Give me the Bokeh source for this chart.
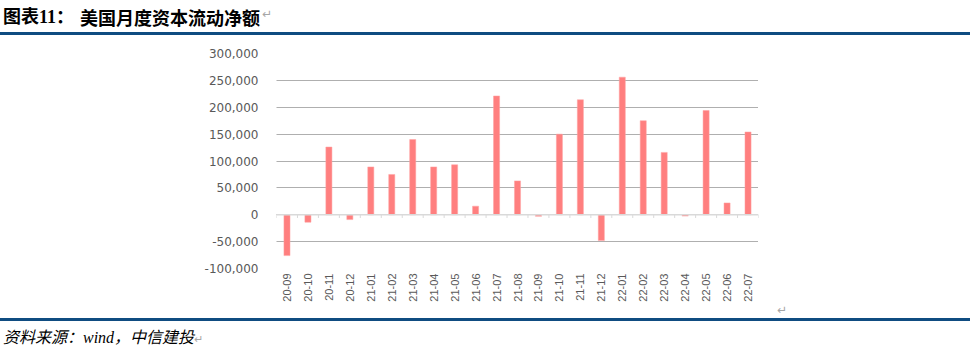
from bokeh.plotting import figure
from bokeh.layouts import column
from bokeh.models import (Range1d, FixedTicker, NumeralTickFormatter, Span,
                          ColumnDataSource, Div)
from bokeh.transform import dodge
from bokeh.embed import file_html
from bokeh.resources import INLINE
import math

# ---- data ----
months = ["20-09", "20-10", "20-11", "20-12",
          "21-01", "21-02", "21-03", "21-04", "21-05", "21-06",
          "21-07", "21-08", "21-09", "21-10", "21-11", "21-12",
          "22-01", "22-02", "22-03", "22-04", "22-05", "22-06", "22-07"]
net_flow = [-76000, -14000, 126000, -9000,
            89000, 75000, 140000, 89000, 93000, 16000,
            221000, 63000, -3000, 150000, 214000, -48000,
            256000, 175000, 116000, -2500, 194000, 22000, 154000]
y_ticks = [-100000, -50000, 0, 50000, 100000, 150000, 200000, 250000, 300000]
title_prefix = "图表11："
title_text = "美国月度资本流动净额"
source_text = "资料来源：wind，中信建投"

BLUE = "#0F4C81"
MARK = "#A6A6A6"

# ---- title band (canvas y 0..36) ----
top_html = f"""
<div style="position:relative;width:970px;height:36px;background:white;overflow:hidden;">
  <span style="position:absolute;left:3px;top:8px;line-height:18px;font-size:18px;font-weight:bold;
     font-family:'Liberation Serif','Noto Sans CJK SC';color:#000;white-space:nowrap;">{title_prefix}</span>
  <span style="position:absolute;left:80px;top:8px;line-height:18px;font-size:18px;font-weight:bold;
     font-family:'Noto Sans CJK SC';color:#000;white-space:nowrap;">{title_text}</span>
  <span style="position:absolute;left:262px;top:8px;line-height:12px;font-size:12px;
     font-family:'DejaVu Sans';color:{MARK};">↵</span>
  <div style="position:absolute;left:0;top:32px;width:970px;height:3px;background:{BLUE};"></div>
</div>
"""
top = Div(text=top_html, width=970, height=36, margin=0)

# ---- main chart (canvas y 36..304) ----
src = ColumnDataSource(dict(month=months, flow=net_flow))
last_src = ColumnDataSource(dict(month=[months[-1]]))

p = figure(width=970, height=268, x_range=months, y_range=Range1d(-100000, 300000),
           output_backend="svg", toolbar_location=None,
           min_border_left=276, min_border_right=212, min_border_top=17, min_border_bottom=36)
p.outline_line_color = None
p.background_fill_color = "white"
p.border_fill_color = "white"

p.vbar(x="month", top="flow", bottom=0, width=0.29, source=src,
       fill_color="#FF7F7F", line_color="#FFA3A3", line_width=0.5)

p.add_layout(Span(location=0, dimension="width", line_color="#D9D9D9", line_width=1.5))
tick_len = 6000
p.segment(x0=dodge("month", -0.5, range=p.x_range), x1=dodge("month", -0.5, range=p.x_range),
          y0=0, y1=-tick_len, source=src, line_color="#D9D9D9", line_width=1)
p.segment(x0=dodge("month", 0.5, range=p.x_range), x1=dodge("month", 0.5, range=p.x_range),
          y0=0, y1=-tick_len, source=last_src, line_color="#D9D9D9", line_width=1)

for ax in (p.xaxis, p.yaxis):
    ax.axis_line_color = None
    ax.major_tick_line_color = None
    ax.minor_tick_line_color = None
    ax.major_tick_out = 0
    ax.major_tick_in = 0
    ax.minor_tick_out = 0
    ax.minor_tick_in = 0
    ax.major_label_text_color = "#595959"

p.yaxis.ticker = FixedTicker(ticks=y_ticks)
p.yaxis.formatter = NumeralTickFormatter(format="0,0")
p.yaxis.major_label_standoff = 18
p.yaxis.major_label_text_font = "DejaVu Sans"
p.yaxis.major_label_text_font_size = "12px"

p.xaxis.major_label_orientation = math.pi / 2
p.xaxis.major_label_standoff = 5
p.xaxis.major_label_text_font = "Liberation Sans"
p.xaxis.major_label_text_font_size = "11px"

p.xgrid.grid_line_color = None
p.ygrid.grid_line_color = "#5F5F5F"
p.ygrid.grid_line_dash = "1 1"
p.ygrid.grid_line_width = 1

# ---- source band (canvas y 304..351) ----
bot_html = f"""
<div style="position:relative;width:970px;height:47px;background:white;overflow:hidden;">
  <span style="position:absolute;left:777px;top:0px;line-height:12px;font-size:12px;
     font-family:'DejaVu Sans';color:{MARK};">↵</span>
  <div style="position:absolute;left:0;top:14px;width:970px;height:3px;background:{BLUE};"></div>
  <span style="position:absolute;left:3px;top:26px;line-height:16px;font-size:16px;font-style:italic;
     font-family:'Liberation Serif','Noto Sans CJK SC';color:#000;white-space:nowrap;">{source_text}<span
     style="font-style:normal;font-size:11px;font-family:'DejaVu Sans';color:{MARK};">↵</span></span>
</div>
"""
bot = Div(text=bot_html, width=970, height=47, margin=0)

layout = column(top, p, bot, spacing=0)
open("out.html", "w").write(file_html(layout, INLINE))
